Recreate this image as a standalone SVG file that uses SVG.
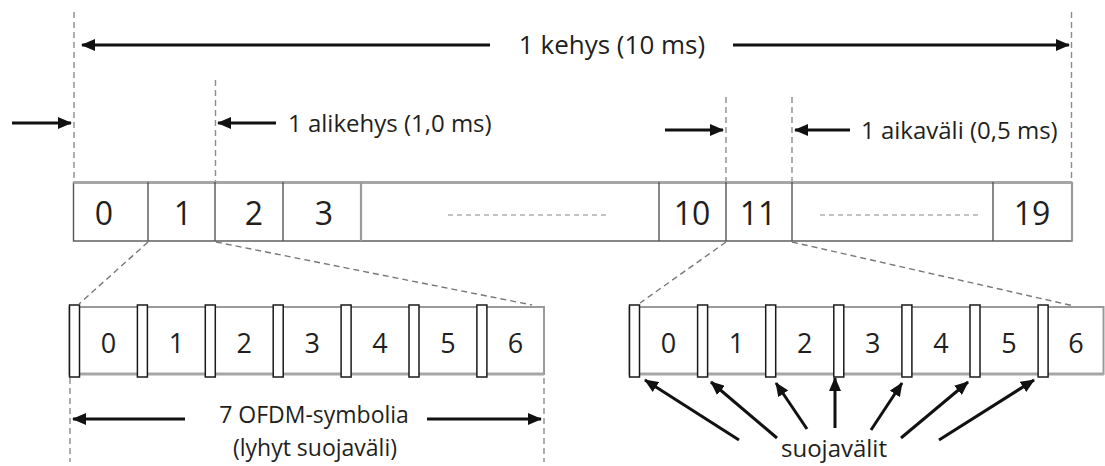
<svg xmlns="http://www.w3.org/2000/svg" width="1105" height="466" viewBox="0 0 1105 466">
  <style>
    .lbl { font-family: "Open Sans", "Liberation Sans", sans-serif; fill: #231f20; }
    .t { font-size: 24px; }
    .s { font-size: 23px; }
    .big { font-size: 32px; text-anchor: middle; }
    .sym { font-size: 27px; text-anchor: middle; }
    .vdash { stroke: #8c8c8c; stroke-width: 1.4; stroke-dasharray: 6 4; fill: none; }
    .cdash { stroke: #777; stroke-width: 1.4; stroke-dasharray: 6 4; fill: none; }
    .fill { stroke: #888; stroke-width: 1.2; stroke-dasharray: 5 4; fill: none; }
    .arr { stroke: #111; stroke-width: 3; fill: none; marker-end: url(#head); }
    .cell { fill: #fff; stroke: #555; stroke-width: 1.4; }
    .div { stroke: #555; stroke-width: 1.4; }
    .divl { stroke: #9a9a9a; stroke-width: 2.2; }
    .row { fill: #fff; stroke: #9a9a9a; stroke-width: 2; }
    .guard { fill: #fff; stroke: #1a1a1a; stroke-width: 1.5; }
  </style>
  <defs>
    <marker id="head" viewBox="0 0 14 12" refX="13" refY="6" markerWidth="14" markerHeight="12" markerUnits="userSpaceOnUse" orient="auto">
      <path d="M0,0 L14,6 L0,12 z" fill="#111"/>
    </marker>
  </defs>

  <!-- reference lines (dashed verticals) -->
  <g id="guides">
    <line class="vdash" x1="74" y1="12" x2="74" y2="182"/>
    <line class="vdash" x1="1071.5" y1="12" x2="1071.5" y2="182"/>
    <line class="vdash" x1="215.5" y1="80" x2="215.5" y2="182"/>
    <line class="vdash" x1="726" y1="97" x2="726" y2="182"/>
    <line class="vdash" x1="792" y1="97" x2="792" y2="182"/>
    <line class="vdash" x1="70" y1="378" x2="70" y2="462"/>
    <line class="vdash" x1="544" y1="378" x2="544" y2="462"/>
  </g>

  <!-- frame of 20 slots -->
  <g id="frame">
    <rect class="cell" x="73.5" y="182.5" width="998.5" height="58.5"/>
    <line x1="73.5" y1="182.5" x2="1072" y2="182.5" stroke="#a6a6a6" stroke-width="3"/>
    <line class="divl" x1="1072" y1="182" x2="1072" y2="241"/>
    <line class="div" x1="148" y1="182" x2="148" y2="241"/>
    <line class="div" x1="215" y1="182" x2="215" y2="241"/>
    <line class="div" x1="283" y1="182" x2="283" y2="241"/>
    <line class="divl" x1="361" y1="182" x2="361" y2="241"/>
    <line class="div" x1="659" y1="182" x2="659" y2="241"/>
    <line class="div" x1="726" y1="182" x2="726" y2="241"/>
    <line class="div" x1="792" y1="182" x2="792" y2="241"/>
    <line class="div" x1="993" y1="182" x2="993" y2="241"/>
    <line class="fill" x1="448" y1="215" x2="607" y2="215"/>
    <line class="fill" x1="820" y1="215" x2="979" y2="215"/>
    <text class="lbl big" x="104" y="225">0</text>
    <text class="lbl big" x="183" y="225">1</text>
    <text class="lbl big" x="254" y="225">2</text>
    <text class="lbl big" x="324" y="225">3</text>
    <text class="lbl big" x="692" y="225">10</text>
    <text class="lbl big" x="758" y="225">11</text>
    <text class="lbl big" x="1032" y="225">19</text>
  </g>

  <!-- slot 1 expanded: 7 OFDM symbols -->
  <g id="slot-left">
    <rect class="row" x="69.5" y="307" width="474.5" height="67"/>
    <line x1="69.5" y1="374" x2="544" y2="374" stroke="#a6a6a6" stroke-width="3"/>
    <rect class="guard" x="69.5" y="305" width="10" height="72"/>
    <rect class="guard" x="137.4" y="305" width="10" height="72"/>
    <rect class="guard" x="205.3" y="305" width="10" height="72"/>
    <rect class="guard" x="273.2" y="305" width="10" height="72"/>
    <rect class="guard" x="341.1" y="305" width="10" height="72"/>
    <rect class="guard" x="409" y="305" width="10" height="72"/>
    <rect class="guard" x="476.9" y="305" width="10" height="72"/>
    <text class="lbl sym" x="108.5" y="353">0</text>
    <text class="lbl sym" x="176.4" y="353">1</text>
    <text class="lbl sym" x="244.3" y="353">2</text>
    <text class="lbl sym" x="312.2" y="353">3</text>
    <text class="lbl sym" x="380.1" y="353">4</text>
    <text class="lbl sym" x="448" y="353">5</text>
    <text class="lbl sym" x="515.5" y="353">6</text>
  </g>

  <!-- slot 11 expanded: 7 OFDM symbols -->
  <g id="slot-right">
    <rect class="row" x="629.5" y="307" width="474" height="67"/>
    <line x1="629.5" y1="374" x2="1104" y2="374" stroke="#a6a6a6" stroke-width="3"/>
    <rect class="guard" x="629.5" y="305" width="10" height="72"/>
    <rect class="guard" x="697.6" y="305" width="10" height="72"/>
    <rect class="guard" x="765.7" y="305" width="10" height="72"/>
    <rect class="guard" x="833.8" y="305" width="10" height="72"/>
    <rect class="guard" x="901.9" y="305" width="10" height="72"/>
    <rect class="guard" x="970" y="305" width="10" height="72"/>
    <rect class="guard" x="1038.1" y="305" width="10" height="72"/>
    <text class="lbl sym" x="668.5" y="353">0</text>
    <text class="lbl sym" x="736.6" y="353">1</text>
    <text class="lbl sym" x="804.7" y="353">2</text>
    <text class="lbl sym" x="872.8" y="353">3</text>
    <text class="lbl sym" x="940.9" y="353">4</text>
    <text class="lbl sym" x="1009" y="353">5</text>
    <text class="lbl sym" x="1076" y="353">6</text>
  </g>

  <!-- labels -->
  <g id="labels">
    <text class="lbl" x="612" y="54" font-size="26" text-anchor="middle">1 kehys (10 ms)</text>
    <text class="lbl t" x="288" y="132">1 alikehys (1,0 ms)</text>
    <text class="lbl t" x="861" y="139">1 aikaväli (0,5 ms)</text>
    <text class="lbl s" x="314" y="423" text-anchor="middle">7 OFDM-symbolia</text>
    <text class="lbl s" x="315" y="456" text-anchor="middle">(lyhyt suojaväli)</text>
    <text class="lbl t" x="834" y="457" text-anchor="middle">suojavälit</text>
  </g>

  <!-- connectors -->
  <g id="connectors">
    <line class="cdash" x1="148" y1="242" x2="79" y2="304"/>
    <line class="cdash" x1="216" y1="242" x2="532" y2="305"/>
    <line class="cdash" x1="726" y1="242" x2="640" y2="303"/>
    <line class="cdash" x1="792" y1="242" x2="1074" y2="306"/>

    <line class="arr" x1="490" y1="45" x2="82" y2="45"/>
    <line class="arr" x1="733" y1="45" x2="1069" y2="45"/>
    <line class="arr" x1="12" y1="123" x2="71" y2="123"/>
    <line class="arr" x1="276" y1="123" x2="218" y2="123"/>
    <line class="arr" x1="665" y1="130" x2="723" y2="130"/>
    <line class="arr" x1="850" y1="130" x2="795" y2="130"/>
    <line class="arr" x1="185" y1="419" x2="73" y2="419"/>
    <line class="arr" x1="427" y1="419" x2="541" y2="419"/>

    <line class="arr" x1="739" y1="440" x2="645" y2="380"/>
    <line class="arr" x1="777" y1="438" x2="711" y2="382"/>
    <line class="arr" x1="807" y1="429" x2="776" y2="383"/>
    <line class="arr" x1="835" y1="428" x2="835" y2="378"/>
    <line class="arr" x1="871" y1="430" x2="902" y2="383"/>
    <line class="arr" x1="901" y1="438" x2="968" y2="382"/>
    <line class="arr" x1="939" y1="440" x2="1034" y2="380"/>
  </g>
</svg>
